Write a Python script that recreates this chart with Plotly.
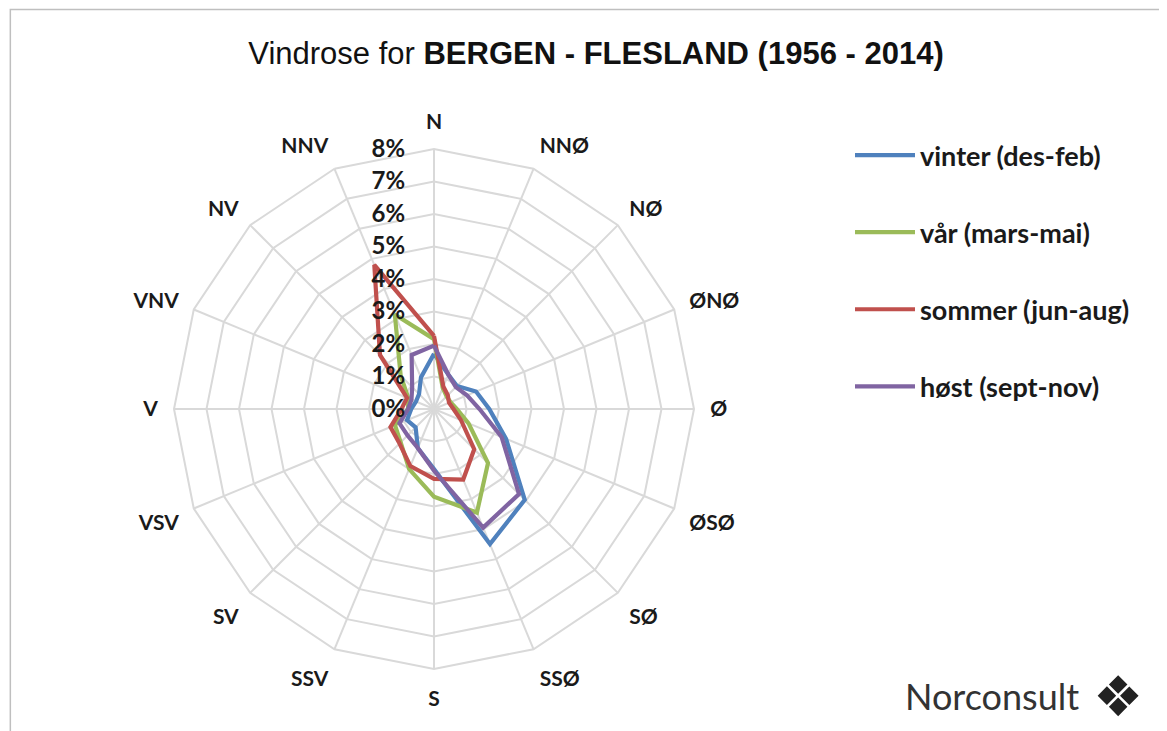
import plotly.graph_objects as go

directions = ["N", "NNØ", "NØ", "ØNØ", "Ø", "ØSØ", "SØ", "SSØ",
              "S", "SSV", "SV", "VSV", "V", "VNV", "NV", "NNV"]

vinter = [1.70, 1.15, 1.00, 1.40, 1.70, 2.40, 3.95, 4.50,
          1.85, 1.30, 0.80, 0.90, 0.70, 0.60, 0.65, 1.05]
vaar = [2.15, 0.70, 0.55, 0.55, 0.70, 1.15, 2.35, 3.45,
        2.70, 2.00, 1.45, 1.30, 0.80, 0.85, 1.45, 3.15]
sommer = [2.25, 0.75, 0.60, 0.50, 0.60, 0.90, 1.75, 2.35,
          2.15, 1.90, 1.50, 1.45, 1.00, 0.90, 2.35, 4.80]
hoest = [1.95, 1.15, 0.95, 1.10, 1.40, 2.25, 3.70, 3.95,
         1.90, 1.30, 1.15, 1.15, 0.80, 0.75, 0.95, 1.80]

series_names = ["vinter (des-feb)", "vår (mars-mai)", "sommer (jun-aug)", "høst (sept-nov)"]
series_values = [vinter, vaar, sommer, hoest]
series_colors = ["#4F81BD", "#9BBB59", "#C0504D", "#8064A2"]

radial_ticks = [0, 1, 2, 3, 4, 5, 6, 7, 8]

W, H = 1167, 731
cx, cy, R = 426, 401, 260

fig = go.Figure()
for i, (name, vals, col) in enumerate(zip(series_names, series_values, series_colors)):
    fig.add_trace(go.Scatterpolar(
        r=vals + vals[:1],
        theta=directions + directions[:1],
        mode="lines",
        name=name,
        legendgroup=f"g{i}",
        line=dict(color=col, width=4.2),
    ))

grid_col = "#D9D9D9"
fig.update_layout(
    width=W, height=H,
    margin=dict(l=0, r=0, t=0, b=0),
    paper_bgcolor="white",
    font=dict(family="Lato, Open Sans, sans-serif", color="#1a1a1a"),
    title=dict(
        text="Vindrose for <b>BERGEN - FLESLAND (1956 - 2014)</b>",
        x=588 / W, xanchor="center",
        y=1 - 45 / H, yanchor="middle",
        font=dict(family="Liberation Sans Narrow, Arial Narrow, Liberation Sans, sans-serif",
                  size=31, color="#111111"),
    ),
    polar=dict(
        domain=dict(x=[(cx - R) / W, (cx + R) / W],
                    y=[(H - cy - R) / H, (H - cy + R) / H]),
        bgcolor="white",
        gridshape="linear",
        angularaxis=dict(
            type="category",
            categoryorder="array",
            categoryarray=directions,
            rotation=90,
            direction="clockwise",
            showline=True, linecolor=grid_col, linewidth=2,
            showgrid=True, gridcolor=grid_col, gridwidth=2,
            ticks="outside", ticklen=11, tickcolor="rgba(0,0,0,0)",
            tickfont=dict(size=21, weight="bold", color="#1a1a1a"),
        ),
        radialaxis=dict(
            range=[0, 8],
            tickvals=radial_ticks,
            ticktext=[f"{v}%" for v in radial_ticks],
            angle=90,
            tickangle=90,
            side="counterclockwise",
            showline=False,
            showgrid=True, gridcolor=grid_col, gridwidth=2,
            ticks="outside", ticklen=20, tickcolor="rgba(0,0,0,0)",
            tickfont=dict(size=24, weight="bold", color="#1a1a1a"),
            layer="above traces",
        ),
    ),
    legend=dict(
        x=842 / W, xanchor="left",
        y=1 - 123 / H, yanchor="top",
        font=dict(size=27, weight="bold", color="#1a1a1a"),
        tracegroupgap=39,
        itemwidth=60,
        bgcolor="rgba(0,0,0,0)",
    ),
    showlegend=True,
)

fig.add_annotation(
    text="Norconsult", x=984 / W, y=1 - 688 / H, xref="paper", yref="paper",
    showarrow=False, xanchor="center", yanchor="middle",
    font=dict(family="Lato, Open Sans, sans-serif", size=36, color="#333333"),
)
fig.add_annotation(
    text="❖", x=1110 / W, y=1 - 688 / H, xref="paper", yref="paper",
    showarrow=False, xanchor="center", yanchor="middle",
    font=dict(family="DejaVu Sans", size=56, color="#222222"),
)
fig.add_shape(type="rect", xref="paper", yref="paper",
              x0=0.002, y0=0.002, x1=0.997, y1=0.998,
              line=dict(color="#BFBFBF", width=1.5))

fig.write_html("out.html")
